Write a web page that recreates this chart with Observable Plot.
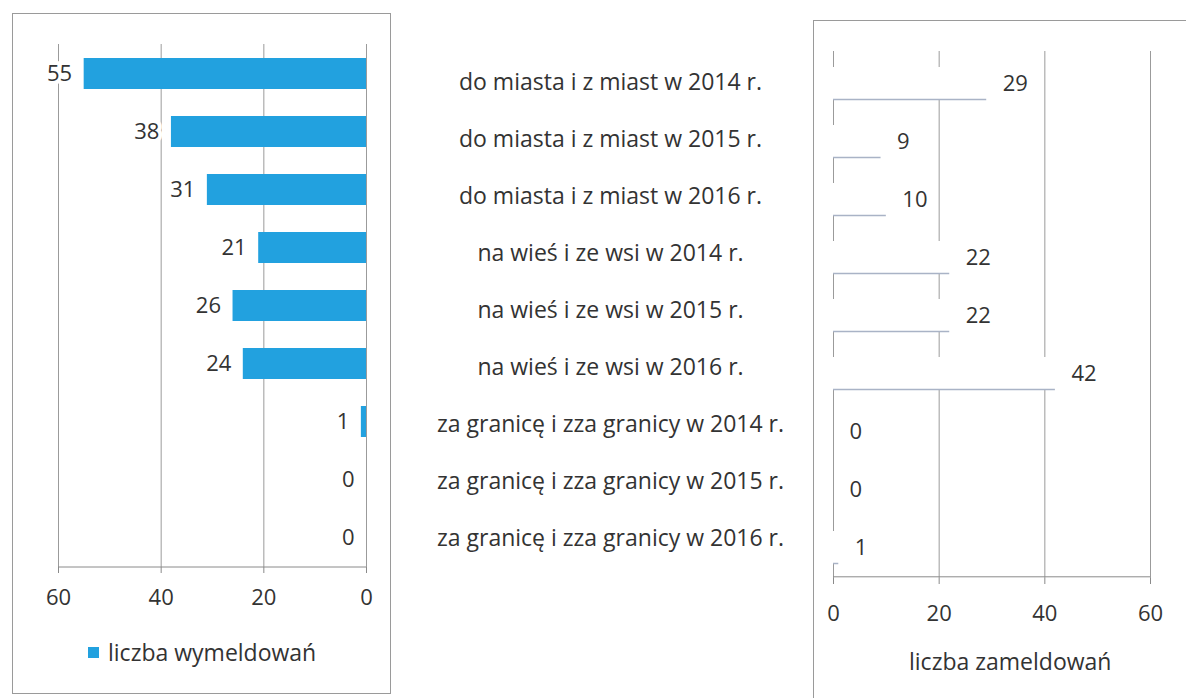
<!DOCTYPE html>
<html>
<head>
<meta charset="utf-8">
<script src="https://cdn.jsdelivr.net/npm/d3@7"></script>
<script src="https://cdn.jsdelivr.net/npm/@observablehq/plot@0.6"></script>
<style>
  html, body { margin: 0; padding: 0; background: #fff; }
  body { width: 1186px; height: 698px; position: relative; overflow: hidden; font-family: "Open Sans", sans-serif; color: #333; }
  .abs { position: absolute; }
  .box { position: absolute; border: 1px solid #9a9a9a; }
  .legend { position: absolute; font-size: 23px; line-height: 30px; color: #333; white-space: nowrap; }
  .sw { display: inline-block; width: 11px; height: 11px; background: #22a1df; margin-right: 9px; vertical-align: 3px; }
</style>
</head>
<body>
<div class="box" style="left:12px; top:13px; width:377px; height:679px;"></div>
<div class="box" style="left:813px; top:20px; width:400px; height:700px;"></div>
<div id="left" class="abs" style="left:0; top:0;"></div>
<div id="mid" class="abs" style="left:420px; top:0;"></div>
<div id="right" class="abs" style="left:800px; top:0;"></div>
<div class="legend" style="left:88px; top:637px;"><span class="sw"></span>liczba wymeldowań</div>
<div class="legend" style="left:909px; top:646px;">liczba zameldowań</div>
<script>
const categories = [
  "do miasta i z miast w 2014 r.",
  "do miasta i z miast w 2015 r.",
  "do miasta i z miast w 2016 r.",
  "na wieś i ze wsi w 2014 r.",
  "na wieś i ze wsi w 2015 r.",
  "na wieś i ze wsi w 2016 r.",
  "za granicę i zza granicy w 2014 r.",
  "za granicę i zza granicy w 2015 r.",
  "za granicę i zza granicy w 2016 r."
];
const wymeldowania = [55, 38, 31, 21, 26, 24, 1, 0, 0];
const zameldowania = [29, 9, 10, 22, 22, 42, 0, 0, 1];
const xTicks = [0, 20, 40, 60];

const outData = categories.map((c, i) => ({cat: c, val: wymeldowania[i]}));
const inData = categories.map((c, i) => ({cat: c, val: zameldowania[i]}));
const lastCat = [categories[categories.length - 1]];

const font = "'Open Sans', sans-serif";
const gridColor = "#8a8a8a";
const numSize = 22;

// left panel: frame 44..567, step ~58.1
const left = Plot.plot({
  width: 400, height: 625,
  marginLeft: 58, marginRight: 34, marginTop: 44, marginBottom: 58,
  style: {fontFamily: font, fontSize: numSize + "px", color: "#333", background: "transparent"},
  x: {domain: [0, 60], reverse: true, ticks: xTicks, label: null},
  y: {domain: categories, paddingInner: 0.47, paddingOuter: 0.235, axis: null},
  marks: [
    Plot.gridX(xTicks, {stroke: gridColor, strokeOpacity: 0.85}),
    Plot.barX(outData, {y: "cat", x: "val", fill: "#22a1df"}),
    Plot.text(outData, {y: "cat", x: "val", text: d => String(d.val), textAnchor: "end", dx: -12, fill: "#333", stroke: "white", strokeWidth: 8, fontSize: numSize}),
    Plot.ruleY(lastCat, {y: d => d, dy: 29, stroke: gridColor}),
    Plot.axisX({anchor: "bottom", ticks: xTicks, tickSize: 6, tickPadding: 16, stroke: gridColor, fill: "#333", fontSize: numSize, label: null})
  ]
});
document.getElementById("left").append(left);

const mid = Plot.plot({
  width: 380, height: 600,
  marginLeft: 0, marginRight: 0, marginTop: 51, marginBottom: 31,
  style: {fontFamily: font, color: "#333", background: "transparent"},
  x: {axis: null, domain: [0, 1]},
  y: {domain: categories, axis: null},
  marks: [
    Plot.text(categories, {y: d => d, frameAnchor: "middle", text: d => d, fill: "#333", fontSize: 23})
  ]
});
document.getElementById("mid").append(mid);

// right panel: frame 51..578, step ~58.6
const right = Plot.plot({
  width: 386, height: 640,
  marginLeft: 33, marginRight: 36, marginTop: 51, marginBottom: 62,
  style: {fontFamily: font, fontSize: numSize + "px", color: "#333", background: "transparent"},
  x: {domain: [0, 60], ticks: xTicks, label: null},
  y: {domain: categories, paddingInner: 0.45, paddingOuter: 0.225, axis: null},
  marks: [
    Plot.gridX(xTicks, {stroke: gridColor, strokeOpacity: 0.85}),
    Plot.barX(inData, {y: "cat", x: "val", fill: "#ffffff"}),
    Plot.ruleY(inData, {y: "cat", x1: 0, x2: "val", dy: 16, stroke: "#a9b3c6", strokeWidth: 1.5}),
    Plot.text(inData, {y: "cat", x: "val", text: d => String(d.val), textAnchor: "start", dx: 16, fill: "#333", stroke: "white", strokeWidth: 8, fontSize: numSize}),
    Plot.ruleY(lastCat, {y: d => d, dy: 29.3, stroke: gridColor}),
    Plot.axisX({anchor: "bottom", ticks: xTicks, tickSize: 6, tickPadding: 21, stroke: gridColor, fill: "#333", fontSize: numSize, label: null})
  ]
});
document.getElementById("right").append(right);
</script>
</body>
</html>
